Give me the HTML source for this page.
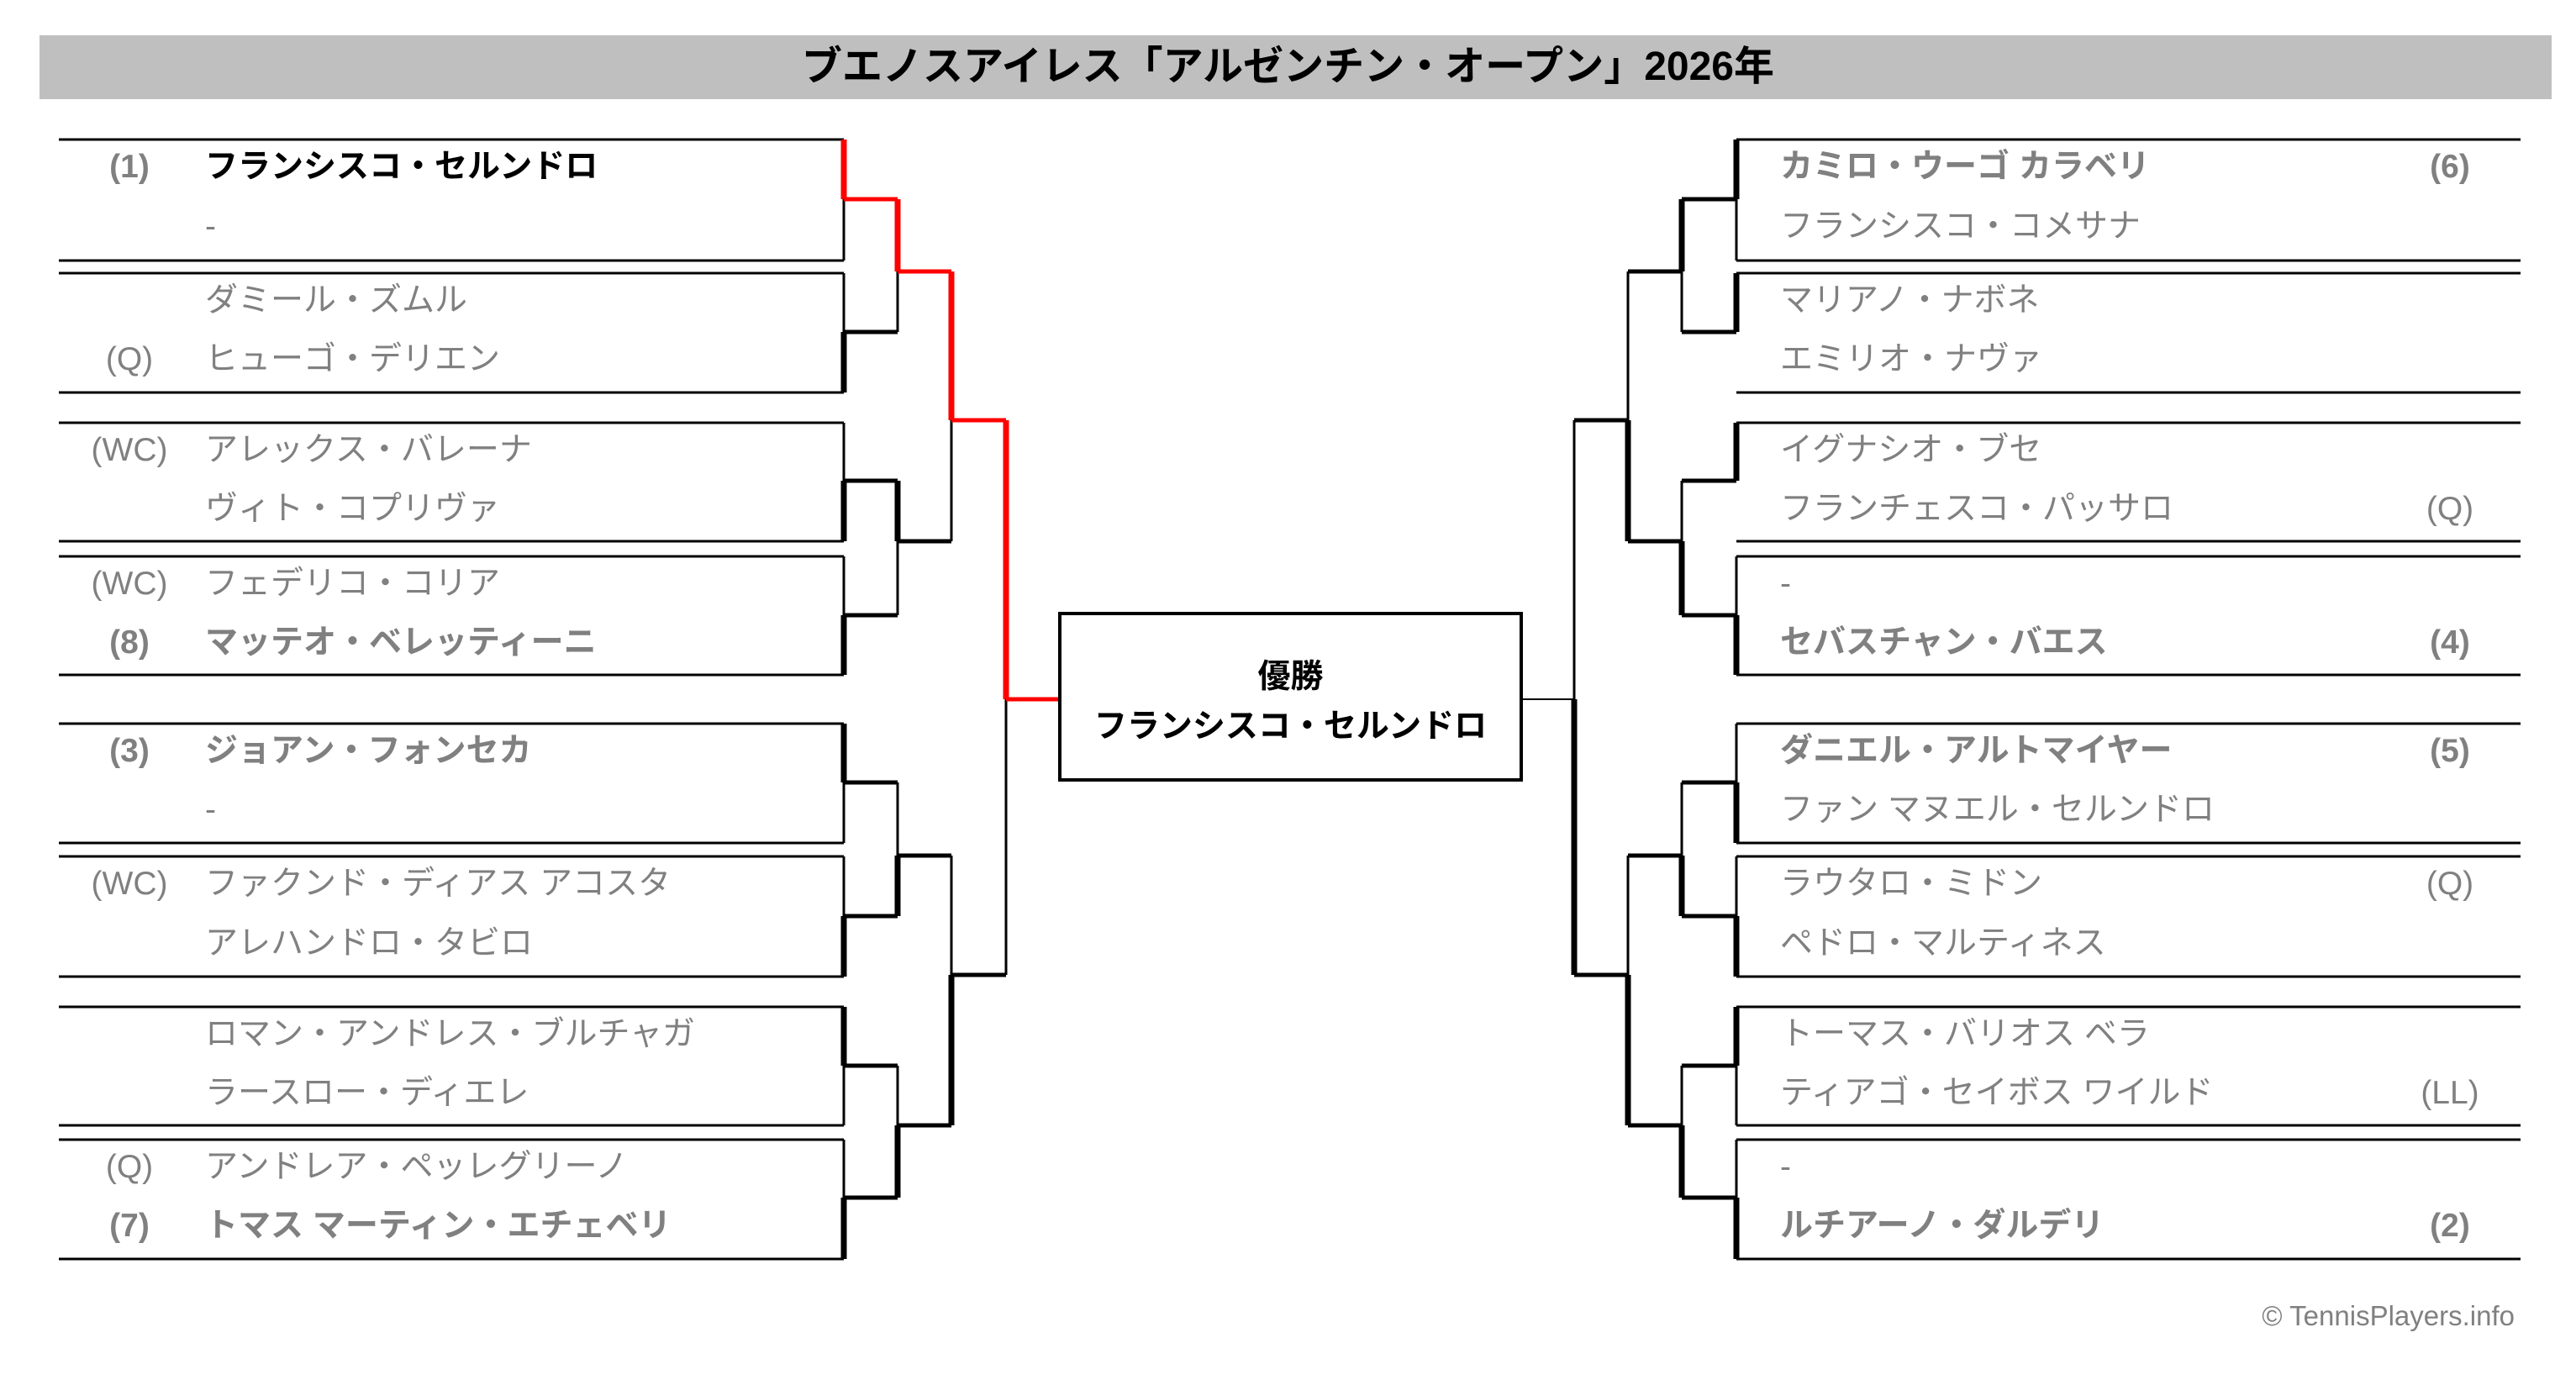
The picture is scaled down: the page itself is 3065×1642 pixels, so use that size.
<!DOCTYPE html>
<html><head><meta charset="utf-8"><style>
html,body{margin:0;padding:0;background:#fff}
#c{position:relative;width:3065px;height:1642px;overflow:hidden;font-family:"Liberation Sans","Noto Sans CJK JP",sans-serif}
svg{position:absolute;left:0;top:0}
.t{position:absolute;height:60px;line-height:60px;font-size:39px;color:#808080;white-space:nowrap}
.b{font-weight:bold}
.s{width:140px;text-align:center}
</style></head><body><div id="c">
<svg width="3065" height="1642" viewBox="0 0 3065 1642">
<rect x="47" y="42" width="2989" height="76" fill="#bfbfbf"/>
<g stroke="#000" stroke-width="3" fill="none">
<path d="M70 166H1004M70 310H1004M70 325H1004M70 467H1004M70 503H1004M70 644H1004M70 662H1004M70 803H1004M70 861H1004M70 1003H1004M70 1019H1004M70 1162H1004M70 1198H1004M70 1339H1004M70 1356H1004M70 1498H1004"/>
<path d="M2066 166H2999M2066 310H2999M2066 325H2999M2066 467H2999M2066 503H2999M2066 644H2999M2066 662H2999M2066 803H2999M2066 861H2999M2066 1003H2999M2066 1019H2999M2066 1162H2999M2066 1198H2999M2066 1339H2999M2066 1356H2999M2066 1498H2999"/>
<path d="M1004 237V310M1004 325V395M1004 503V572M1004 662V732M1004 931V1003M1004 1019V1090M1004 1268V1339M1004 1356V1425"/>
<path d="M1068 323V395M1068 644V732M1068 931V1018M1068 1268V1339M1132 500V644M1132 1018V1160M1197 832V1160"/>
<path d="M2066 237V310M2066 325V395M2066 503V572M2066 662V732M2066 861V931M2066 1019V1090M2066 1268V1339M2066 1356V1425"/>
<path d="M2001 323V395M2001 572V644M2001 931V1018M2001 1268V1339M1937 323V500M1937 1018V1160M1873 500V832"/>
</g>
<g stroke="#000" stroke-width="7" fill="none">
<path d="M1004 395V467M1004 572V644M1004 732V803M1004 861V931M1004 1090V1162M1004 1198V1268M1004 1425V1498"/>
<path d="M1068 572V644M1068 1018V1090M1068 1339V1425M1132 1160V1339"/>
<path d="M2066 166V237M2066 325V395M2066 503V572M2066 732V803M2066 931V1003M2066 1090V1162M2066 1198V1268M2066 1425V1498"/>
<path d="M2001 237V323M2001 644V732M2001 1018V1090M2001 1339V1425M1937 500V644M1937 1160V1339M1873 832V1160"/>
</g>
<g stroke="#000" stroke-width="5" fill="none">
<path d="M1004 395H1068M1004 572H1068M1004 732H1068M1004 931H1068M1004 1090H1068M1004 1268H1068M1004 1425H1068"/>
<path d="M1068 644H1132M1068 1018H1132M1068 1339H1132M1132 1160H1197"/>
<path d="M2066 237H2001M2066 395H2001M2066 572H2001M2066 732H2001M2066 931H2001M2066 1090H2001M2066 1268H2001M2066 1425H2001"/>
<path d="M2001 323H1937M2001 644H1937M2001 1018H1937M2001 1339H1937M1937 500H1873M1937 1160H1873"/>
</g>
<g stroke="#f00" fill="none">
<path stroke-width="7" d="M1004 166V237M1068 237V323M1132 323V500M1197 500V832"/>
<path stroke-width="5" d="M1004 237H1068M1068 323H1132M1132 500H1197M1197 832H1261"/>
</g>
<path d="M1810 832H1873" stroke="#000" stroke-width="2"/>
<rect x="1261" y="730" width="549" height="198" fill="#fff" stroke="#000" stroke-width="4"/>
</svg>

<div class="t b" style="left:0;width:3065px;text-align:center;top:50px;font-size:48px;color:#000">ブエノスアイレス「アルゼンチン・オープン」2026年</div>

<div class="t b" style="left:1261px;width:549px;text-align:center;top:776px;color:#000">優勝</div>
<div class="t b" style="left:1261px;width:549px;text-align:center;top:835px;color:#000">フランシスコ・セルンドロ</div>

<div class="t b s" style="left:84px;top:169px">(1)</div><div class="t b" style="left:244px;top:169px;color:#000">フランシスコ・セルンドロ</div>
<div class="t" style="left:244px;top:240px">-</div>
<div class="t" style="left:244px;top:328px">ダミール・ズムル</div>
<div class="t s" style="left:84px;top:398px">(Q)</div><div class="t" style="left:244px;top:398px">ヒューゴ・デリエン</div>
<div class="t s" style="left:84px;top:506px">(WC)</div><div class="t" style="left:244px;top:506px">アレックス・バレーナ</div>
<div class="t" style="left:244px;top:576px">ヴィト・コプリヴァ</div>
<div class="t s" style="left:84px;top:665px">(WC)</div><div class="t" style="left:244px;top:665px">フェデリコ・コリア</div>
<div class="t b s" style="left:84px;top:735px">(8)</div><div class="t b" style="left:244px;top:735px">マッテオ・ベレッティーニ</div>
<div class="t b s" style="left:84px;top:864px">(3)</div><div class="t b" style="left:244px;top:864px">ジョアン・フォンセカ</div>
<div class="t" style="left:244px;top:934px">-</div>
<div class="t s" style="left:84px;top:1022px">(WC)</div><div class="t" style="left:244px;top:1022px">ファクンド・ディアス アコスタ</div>
<div class="t" style="left:244px;top:1093px">アレハンドロ・タビロ</div>
<div class="t" style="left:244px;top:1201px">ロマン・アンドレス・ブルチャガ</div>
<div class="t" style="left:244px;top:1271px">ラースロー・ディエレ</div>
<div class="t s" style="left:84px;top:1359px">(Q)</div><div class="t" style="left:244px;top:1359px">アンドレア・ペッレグリーノ</div>
<div class="t b s" style="left:84px;top:1429px">(7)</div><div class="t b" style="left:244px;top:1429px">トマス マーティン・エチェベリ</div>

<div class="t b" style="left:2118px;top:169px">カミロ・ウーゴ カラベリ</div><div class="t b s" style="left:2845px;top:169px">(6)</div>
<div class="t" style="left:2118px;top:240px">フランシスコ・コメサナ</div>
<div class="t" style="left:2118px;top:328px">マリアノ・ナボネ</div>
<div class="t" style="left:2118px;top:398px">エミリオ・ナヴァ</div>
<div class="t" style="left:2118px;top:506px">イグナシオ・ブセ</div>
<div class="t" style="left:2118px;top:576px">フランチェスコ・パッサロ</div><div class="t s" style="left:2845px;top:576px">(Q)</div>
<div class="t" style="left:2118px;top:665px">-</div>
<div class="t b" style="left:2118px;top:735px">セバスチャン・バエス</div><div class="t b s" style="left:2845px;top:735px">(4)</div>
<div class="t b" style="left:2118px;top:864px">ダニエル・アルトマイヤー</div><div class="t b s" style="left:2845px;top:864px">(5)</div>
<div class="t" style="left:2118px;top:934px">ファン マヌエル・セルンドロ</div>
<div class="t" style="left:2118px;top:1022px">ラウタロ・ミドン</div><div class="t s" style="left:2845px;top:1022px">(Q)</div>
<div class="t" style="left:2118px;top:1093px">ペドロ・マルティネス</div>
<div class="t" style="left:2118px;top:1201px">トーマス・バリオス ベラ</div>
<div class="t" style="left:2118px;top:1271px">ティアゴ・セイボス ワイルド</div><div class="t s" style="left:2845px;top:1271px">(LL)</div>
<div class="t" style="left:2118px;top:1359px">-</div>
<div class="t b" style="left:2118px;top:1429px">ルチアーノ・ダルデリ</div><div class="t b s" style="left:2845px;top:1429px">(2)</div>

<div class="t" style="right:73px;top:1536px;font-size:33px">© TennisPlayers.info</div>
</div></body></html>
